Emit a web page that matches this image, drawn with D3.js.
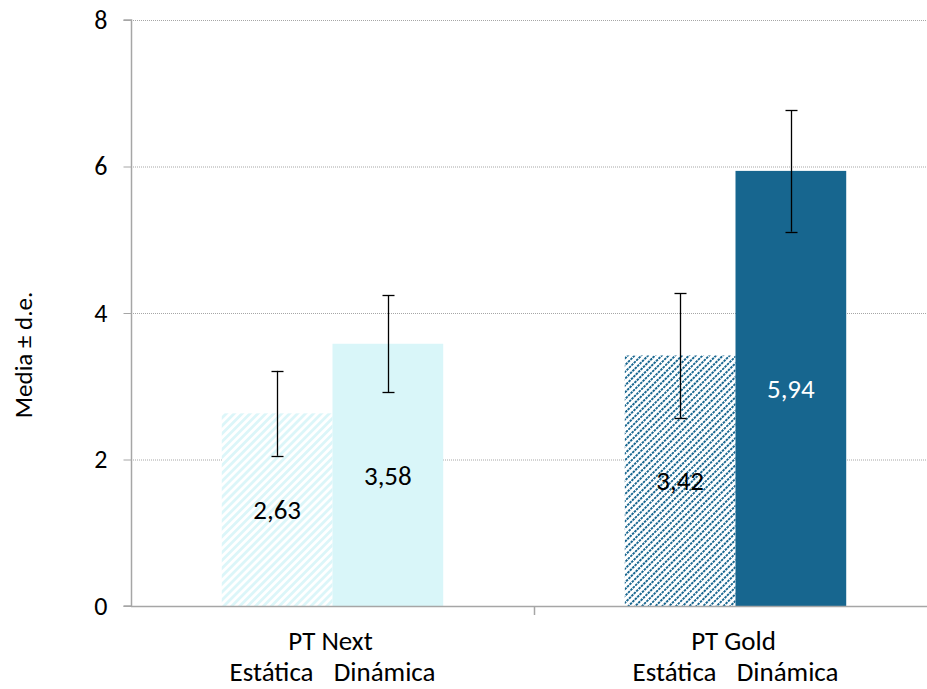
<!DOCTYPE html>
<html>
<head>
<meta charset="utf-8">
<script src="https://cdn.jsdelivr.net/npm/d3@7/dist/d3.min.js"></script>
<style>
  html, body { margin: 0; padding: 0; background: #fff; }
  svg { display: block; }
  text { font-family: Carlito, Calibri, Lato, "Open Sans", sans-serif; }
</style>
</head>
<body>
<svg id="chart" width="927" height="689"></svg>
<script>
// Grupos y tipos de medida
const categories = ["PT Next", "PT Gold"];
const series = ["Estática", "Dinámica"];
// Medias por grupo (Estática, Dinámica)
const meanNext = [2.63, 3.58];
const meanGold = [3.42, 5.94];
// Desviaciones estándar
const sdNext = [0.58, 0.66];
const sdGold = [0.85, 0.83];
const yTicks = [0, 2, 4, 6, 8];
const yTitle = "Media ± d.e.";

const means = [meanNext, meanGold];
const sds = [sdNext, sdGold];

const FONT = 27;
const fills = [
  ["url(#hatchLight)", "#d9f6f9"],
  ["url(#hatchDark)", "#17668f"]
];
const labelColors = [["#000", "#000"], ["#000", "#fff"]];

const svg = d3.select("#chart");
const m = { left: 131, right: 937, top: 20, bottom: 606 };

const x0 = d3.scaleBand().domain(categories).range([m.left, m.right]).paddingInner(0).paddingOuter(0);
const x1 = d3.scaleBand().domain(series).range([0, x0.bandwidth()]).paddingInner(0).paddingOuter(0.82);
const y = d3.scaleLinear().domain([0, 8]).range([m.bottom, m.top]);

// Patrones rayados para la medida estática
const defs = svg.append("defs");
const pl = defs.append("pattern").attr("id", "hatchLight")
  .attr("patternUnits", "userSpaceOnUse").attr("width", 5.6).attr("height", 5.6)
  .attr("patternTransform", "rotate(45)");
pl.append("rect").attr("width", 5.6).attr("height", 5.6).attr("fill", "#fff");
pl.append("rect").attr("width", 2.8).attr("height", 5.6).attr("fill", "#dcf6f9");

const pd = defs.append("pattern").attr("id", "hatchDark")
  .attr("patternUnits", "userSpaceOnUse").attr("width", 4.8).attr("height", 3.4)
  .attr("patternTransform", "rotate(45)");
pd.append("rect").attr("width", 4.8).attr("height", 3.4).attr("fill", "#fff");
pd.append("rect").attr("width", 1.9).attr("height", 2.5).attr("fill", "#17668f");

// Líneas de cuadrícula
svg.append("g").selectAll("line").data(yTicks.filter(d => d > 0)).join("line")
  .attr("x1", m.left).attr("x2", 926)
  .attr("y1", d => y(d) + 0.5).attr("y2", d => y(d) + 0.5)
  .attr("stroke", "#a6a6a6").attr("stroke-width", 1).attr("stroke-dasharray", "1,1");

// Barras, barras de error y etiquetas de valor
const groups = svg.append("g").selectAll("g").data(categories).join("g")
  .attr("transform", d => `translate(${x0(d)},0)`);

groups.each(function(cat, ci) {
  const g = d3.select(this);
  series.forEach((s, si) => {
    const v = means[ci][si];
    g.append("rect")
      .attr("x", x1(s)).attr("width", x1.bandwidth())
      .attr("y", y(v)).attr("height", y(0) - y(v))
      .attr("fill", fills[ci][si]);
  });
  series.forEach((s, si) => {
    const v = means[ci][si];
    const sd = sds[ci][si];
    const cx = x1(s) + x1.bandwidth() / 2;
    const ex = Math.round(cx) + 0.5;
    g.append("line").attr("x1", ex).attr("x2", ex)
      .attr("y1", y(v + sd)).attr("y2", y(v - sd))
      .attr("stroke", "#000").attr("stroke-width", 1.3);
    [v + sd, v - sd].forEach(e => {
      g.append("line").attr("x1", ex - 6).attr("x2", ex + 6)
        .attr("y1", Math.round(y(e)) + 0.5).attr("y2", Math.round(y(e)) + 0.5)
        .attr("stroke", "#000").attr("stroke-width", 1.3);
    });
    g.append("text")
      .attr("x", cx).attr("y", (y(v) + y(0)) / 2)
      .attr("text-anchor", "middle").attr("dy", "0.36em")
      .attr("font-size", FONT).attr("fill", labelColors[ci][si])
      .text(v.toFixed(2).replace(".", ","));
  });
});

// Eje Y
const yAxis = svg.append("g").attr("transform", `translate(${m.left + 0.5},0)`)
  .call(d3.axisLeft(y).tickValues(yTicks).tickSize(8).tickPadding(16).tickFormat(d => d));
yAxis.select(".domain").attr("stroke", "#a6a6a6").attr("stroke-width", 1.5)
  .attr("d", `M-8,${y(8)}H0V${y(0)}H-8`);
yAxis.selectAll(".tick line").attr("stroke", "#a6a6a6");
yAxis.selectAll(".tick text").attr("font-size", FONT - 1).attr("fill", "#000")
  .style("font-family", "Carlito, Calibri, Lato, 'Open Sans', sans-serif");

// Eje X
const xAxisG = svg.append("g");
xAxisG.append("line").attr("x1", m.left).attr("x2", 927)
  .attr("y1", m.bottom + 0.5).attr("y2", m.bottom + 0.5)
  .attr("stroke", "#a6a6a6").attr("stroke-width", 1.5);
xAxisG.selectAll("line.tk").data([categories[1]]).join("line").attr("class", "tk")
  .attr("x1", d => Math.round(x0(d)) + 0.5).attr("x2", d => Math.round(x0(d)) + 0.5)
  .attr("y1", m.bottom).attr("y2", m.bottom + 9)
  .attr("stroke", "#a6a6a6").attr("stroke-width", 1.5);

// Etiquetas de categoría en dos niveles
categories.forEach(cat => {
  const cx = x0(cat) + x0.bandwidth() / 2;
  svg.append("text").attr("x", cx - 2).attr("y", 650)
    .attr("text-anchor", "middle").attr("font-size", FONT).text(cat);
  svg.append("text").attr("x", cx - 103).attr("y", 681)
    .attr("text-anchor", "start").attr("font-size", FONT).text(series[0]);
  svg.append("text").attr("x", cx + 103).attr("y", 681)
    .attr("text-anchor", "end").attr("font-size", FONT).text(series[1]);
});

// Título del eje Y
svg.append("text")
  .attr("transform", `translate(32,355) rotate(-90)`)
  .attr("text-anchor", "middle").attr("font-size", FONT - 2).text(yTitle);
</script>
</body>
</html>
